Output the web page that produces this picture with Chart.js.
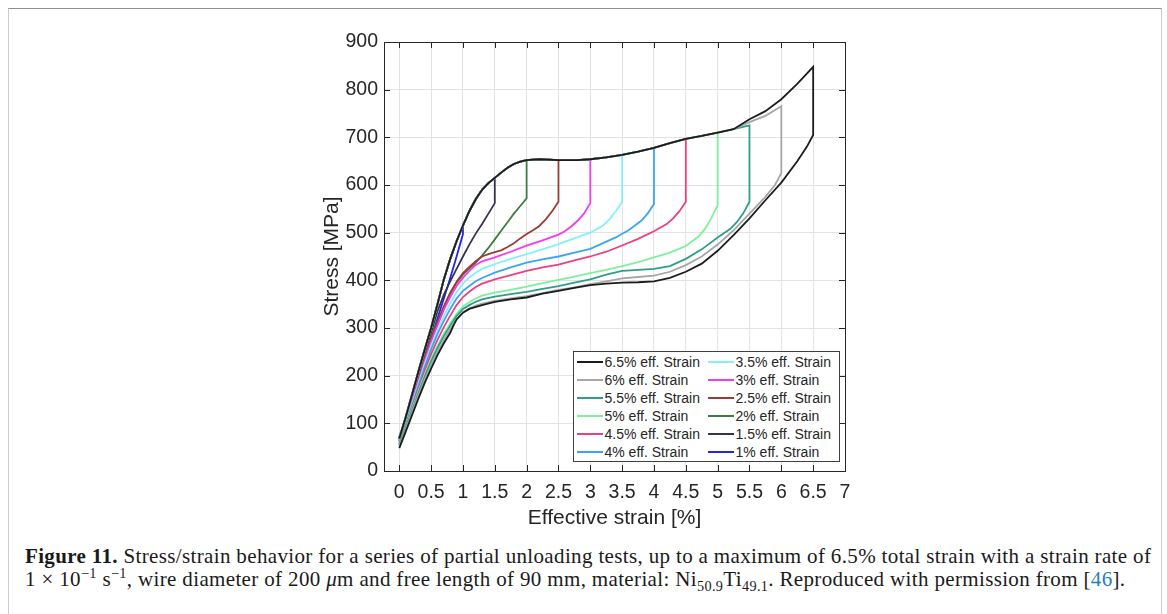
<!DOCTYPE html>
<html lang="en">
<head>
<meta charset="UTF-8">
<title>stress strain</title>
<script src="https://cdn.jsdelivr.net/npm/chart.js"></script>
<style>
  body { margin: 0; background: #fff; width: 1167px; height: 614px; overflow: hidden; position: relative; }
  .moldura { position: absolute; left: 8px; top: 8px; width: 1152px; height: 660px;
    border-top: 1px solid #8f8f8f; border-left: 1.5px solid #cdcdcd; border-right: 1.5px solid #cdcdcd; }
  #grafico { position: absolute; left: 0; top: 0; }
  .legenda { position: absolute; left: 573px; top: 351px; width: 267px; height: 111px; box-sizing: border-box;
    border: 1.5px solid #404040; background: #fff; display: grid; grid-auto-flow: column;
    grid-template-rows: repeat(6, 18px); grid-template-columns: 131px 131px; padding-top: 1px;
    font-family: "Liberation Sans", Arial, sans-serif; }
  .legenda .item { display: flex; align-items: center; height: 18px; padding-left: 2.5px; }
  .legenda .linha { width: 26px; height: 2px; margin-right: 2px; }
  .legenda span { font-size: 14px; color: #262626; white-space: nowrap; }
  .legenda-fig { position: absolute; left: 25px; top: 545px; font-family: "Liberation Serif", "Times New Roman", serif;
    font-size: 21px; letter-spacing: 0.35px; line-height: 23px; color: #1a1a1a; white-space: nowrap; }
  .legenda-fig sup, .legenda-fig sub { font-size: 68%; line-height: 0; }
  .ref { color: #1f7fc0; }
</style>
</head>
<body>
  <div class="moldura"></div>
  <canvas id="grafico" width="1167" height="540"></canvas>
  <div class="legenda" id="legenda"></div>
  <div class="legenda-fig">
    <b>Figure 11.</b> Stress/strain behavior for a series of partial unloading tests, up to a maximum of 6.5% total strain with a strain rate of<br>
    1 × 10<sup>−1</sup> s<sup>−1</sup>, wire diameter of 200 <i>μ</i>m and free length of 90 mm, material: Ni<sub>50.9</sub>Ti<sub>49.1</sub>. Reproduced with permission from [<span class="ref">46</span>].
  </div>

<script>
  // curvas de carga/descarga (deformacao em %, tensao em MPa)
  const picos = [6.5, 6, 5.5, 5, 4.5, 4, 3.5, 3, 2.5, 2, 1.5, 1]
  const nomes = ['6.5% eff. Strain', '6% eff. Strain', '5.5% eff. Strain', '5% eff. Strain', '4.5% eff. Strain', '4% eff. Strain',
                 '3.5% eff. Strain', '3% eff. Strain', '2.5% eff. Strain', '2% eff. Strain', '1.5% eff. Strain', '1% eff. Strain']
  const cores = ['#1c1c1c', '#a6a6a6', '#2e9e86', '#7ff09a', '#ee3f80', '#3aa6ee',
                 '#86f0f6', '#f23cf0', '#9c3b32', '#3d7d3d', '#34344f', '#2424e6']
  const xTicks = [0, 0.5, 1, 1.5, 2, 2.5, 3, 3.5, 4, 4.5, 5, 5.5, 6, 6.5, 7]

  // envoltoria de carregamento (comum a todas)
  const envX = [0, 0.1, 0.2, 0.3, 0.4, 0.5, 0.6, 0.7, 0.8, 0.9, 1.0, 1.1, 1.2, 1.3, 1.4, 1.5, 1.6, 1.7, 1.8, 1.9, 2.0,
                2.2, 2.5, 2.8, 3.0, 3.25, 3.5, 3.75, 4.0, 4.25, 4.5, 4.75, 5.0, 5.25, 5.5]
  const envY = [68, 112, 160, 208, 255, 300, 350, 402, 445, 482, 515, 545, 570, 590, 604, 615, 626, 636, 644, 649, 652,
                654, 652, 652, 654, 658, 663, 670, 678, 688, 697, 703, 710, 717, 725]
  const cauda6 = [[5.5, 732], [5.75, 745], [6, 765]]
  const cauda65 = [[5.5, 738], [5.75, 755], [6, 780], [6.25, 812], [6.5, 848]]

  // ramos de descarga
  const d65 = [[6.5,705],[6.4,680],[6.25,650],[6.0,605],[5.75,568],[5.5,530],[5.25,495],[5.0,462],[4.75,435],[4.5,418],[4.25,405],[4.0,398],[3.75,396],[3.5,395],[3.25,393],[3.0,390],[2.75,384],[2.5,378],[2.25,372],[2.0,364],[1.75,360],[1.5,355],[1.3,348],[1.1,340],[1.0,332],[0.9,318],[0.85,305],[0.8,290],[0.7,268],[0.6,243],[0.5,215],[0.4,185],[0.3,152],[0.2,117],[0.1,82],[0,48]]
  const d6 = [[6,625],[5.9,600],[5.75,575],[5.5,540],[5.25,505],[5.0,475],[4.75,450],[4.5,432],[4.25,418],[4.0,410],[3.75,407],[3.5,404],[3.25,398],[3.0,392],[2.75,385],[2.5,380],[2.25,373],[2.0,367],[1.75,362],[1.5,357],[1.3,351],[1.2,347],[1.1,341],[1.0,333],[0.9,318],[0.8,298],[0.7,275],[0.6,250],[0.5,223],[0.4,192],[0.3,158],[0.2,122],[0.1,86],[0,52]]
  const d55 = [[5.5,565],[5.4,540],[5.3,522],[5.2,508],[5.0,490],[4.75,465],[4.5,445],[4.25,430],[4.0,424],[3.75,422],[3.5,420],[3.25,412],[3.0,402],[2.75,395],[2.5,388],[2.25,382],[2.0,376],[1.75,371],[1.5,366],[1.3,360],[1.2,355],[1.1,348],[1.0,340],[0.9,325],[0.8,305],[0.7,283],[0.6,258],[0.5,230],[0.4,198],[0.3,163],[0.2,127],[0.1,90],[0,55]]
  const d5 = [[5,558],[4.9,530],[4.8,508],[4.7,492],[4.5,472],[4.25,458],[4.0,448],[3.75,438],[3.5,430],[3.25,422],[3.0,415],[2.75,408],[2.5,401],[2.25,394],[2.0,387],[1.75,380],[1.5,374],[1.3,368],[1.2,362],[1.1,354],[1.0,345],[0.9,330],[0.8,310],[0.7,288],[0.6,263],[0.5,235],[0.4,203],[0.3,167],[0.2,130],[0.1,92],[0,55]]
  const d45 = [[4.5,565],[4.4,545],[4.3,530],[4.2,518],[4.0,503],[3.75,487],[3.5,473],[3.25,460],[3.0,450],[2.75,442],[2.5,433],[2.25,427],[2.0,420],[1.75,411],[1.5,402],[1.3,393],[1.2,386],[1.1,376],[1.0,365],[0.9,348],[0.8,326],[0.7,302],[0.6,275],[0.5,245],[0.4,210],[0.3,172],[0.2,133],[0.1,95],[0,57]]
  const d4 = [[4,560],[3.9,540],[3.8,525],[3.6,505],[3.4,490],[3.2,478],[3.0,466],[2.75,458],[2.5,450],[2.25,444],[2.0,437],[1.75,427],[1.5,416],[1.3,405],[1.2,398],[1.1,388],[1.0,378],[0.9,362],[0.8,340],[0.7,315],[0.6,287],[0.5,255],[0.4,218],[0.3,178],[0.2,137],[0.1,97],[0,58]]
  const d35 = [[3.5,565],[3.4,545],[3.3,528],[3.2,515],[3.0,500],[2.75,488],[2.5,476],[2.25,465],[2.0,455],[1.75,445],[1.5,434],[1.3,424],[1.2,416],[1.1,406],[1.0,393],[0.9,375],[0.8,352],[0.7,325],[0.6,295],[0.5,262],[0.4,225],[0.3,183],[0.2,140],[0.1,100],[0,60]]
  const d3 = [[3,562],[2.9,540],[2.8,525],[2.7,513],[2.6,503],[2.5,496],[2.25,484],[2.0,473],[1.75,460],[1.5,448],[1.3,440],[1.2,432],[1.1,420],[1.0,405],[0.9,388],[0.8,365],[0.7,338],[0.6,305],[0.5,272],[0.4,232],[0.3,188],[0.2,145],[0.1,103],[0,62]]
  const d25 = [[2.5,565],[2.4,545],[2.3,528],[2.2,514],[2.1,505],[2.0,497],[1.9,488],[1.8,478],[1.7,470],[1.6,463],[1.5,459],[1.4,455],[1.3,450],[1.2,440],[1.1,428],[1.0,415],[0.9,397],[0.8,374],[0.7,345],[0.6,312],[0.5,278],[0.4,236],[0.3,192],[0.2,148],[0.1,105],[0,63]]
  const d2 = [[2,572],[1.9,556],[1.8,540],[1.7,522],[1.6,504],[1.5,486],[1.4,468],[1.3,452],[1.2,437],[1.1,425],[1.0,412],[0.9,395],[0.8,372],[0.7,345],[0.6,312],[0.5,280],[0.4,238],[0.3,194],[0.2,150],[0.1,107],[0,65]]
  const d15 = [[1.5,562],[1.4,540],[1.3,518],[1.2,498],[1.1,475],[1.0,450],[0.9,424],[0.8,398],[0.7,370],[0.6,335],[0.5,290],[0.4,245],[0.3,198],[0.2,153],[0.1,110],[0,68]]
  const d1 = [[1,497],[0.9,450],[0.8,405],[0.7,362],[0.6,320],[0.5,278],[0.4,235],[0.3,192],[0.2,150],[0.1,110],[0,72]]
  const descargas = [d65, d6, d55, d5, d45, d4, d35, d3, d25, d2, d15, d1]

  function montaCurva(i) {
    const s = picos[i]
    let pontos = []
    const limite = s > 5.5 ? 5.25 : s
    for (let k = 0; k < envX.length; k++) {
      if (envX[k] <= limite + 1e-9) pontos.push({x: envX[k], y: envY[k]})
    }
    if (s == 6) cauda6.forEach(p => pontos.push({x: p[0], y: p[1]}))
    if (s == 6.5) cauda65.forEach(p => pontos.push({x: p[0], y: p[1]}))
    descargas[i].forEach(p => pontos.push({x: p[0], y: p[1]}))
    return pontos
  }

  const fonte = '"Liberation Sans", Arial, sans-serif'
  const datasets = picos.map((s, i) => ({
    label: nomes[i],
    data: montaCurva(i),
    showLine: true,
    borderColor: cores[i],
    backgroundColor: cores[i],
    borderWidth: 1.8,
    pointRadius: 0,
    tension: 0
  }))

  // caixa + marcas internas estilo matlab
  const caixa = {
    id: 'caixa',
    afterDraw(chart) {
      const {ctx, chartArea: a} = chart
      const x = chart.scales.x, y = chart.scales.y
      ctx.save()
      ctx.strokeStyle = '#262626'
      ctx.lineWidth = 1
      ctx.beginPath()
      x.ticks.forEach(t => {
        const px = Math.round(x.getPixelForValue(t.value)) + 0.5
        ctx.moveTo(px, a.bottom); ctx.lineTo(px, a.bottom - 6)
        ctx.moveTo(px, a.top); ctx.lineTo(px, a.top + 6)
      })
      y.ticks.forEach(t => {
        const py = Math.round(y.getPixelForValue(t.value)) + 0.5
        ctx.moveTo(a.left, py); ctx.lineTo(a.left + 6, py)
        ctx.moveTo(a.right, py); ctx.lineTo(a.right - 6, py)
      })
      ctx.stroke()
      ctx.strokeRect(Math.round(a.left) + 0.5, Math.round(a.top) + 0.5, Math.round(a.right - a.left), Math.round(a.bottom - a.top))
      ctx.restore()
    }
  }

  const ctx = document.getElementById('grafico')
  const grafico = new Chart(ctx, {
    type: 'scatter',
    data: { datasets: datasets },
    options: {
      responsive: false,
      animation: false,
      layout: { padding: { left: 316, top: 42, right: 322, bottom: 5 } },
      plugins: { legend: { display: false }, tooltip: { enabled: false } },
      scales: {
        x: {
          type: 'linear', min: -0.24, max: 7.0,
          afterBuildTicks: s => { s.ticks = xTicks.map(v => ({value: v})) },
          afterFit: s => { s.height = 64 },
          ticks: { callback: v => String(v), autoSkip: false, maxRotation: 0, padding: 10,
                   color: '#262626', font: { size: 19.5, family: fonte } },
          grid: { color: '#e3e3e3', drawTicks: false },
          border: { color: '#262626' },
          title: { display: true, text: 'Effective strain [%]', color: '#262626', font: { size: 21, family: fonte } }
        },
        y: {
          min: 0, max: 900,
          afterFit: s => { s.width = 68 },
          ticks: { stepSize: 100, padding: 6, color: '#262626', font: { size: 19.5, family: fonte } },
          grid: { color: '#e3e3e3', drawTicks: false },
          border: { color: '#262626' },
          title: { display: true, text: 'Stress [MPa]', color: '#262626', font: { size: 21, family: fonte } }
        }
      }
    },
    plugins: [caixa]
  })

  // legenda html em duas colunas (ordem por coluna, como no matlab)
  const leg = document.getElementById('legenda')
  grafico.data.datasets.forEach(d => {
    const item = document.createElement('div')
    item.className = 'item'
    item.innerHTML = '<div class="linha" style="background:' + d.borderColor + '"></div><span>' + d.label + '</span>'
    leg.appendChild(item)
  })
</script>
</body>
</html>
